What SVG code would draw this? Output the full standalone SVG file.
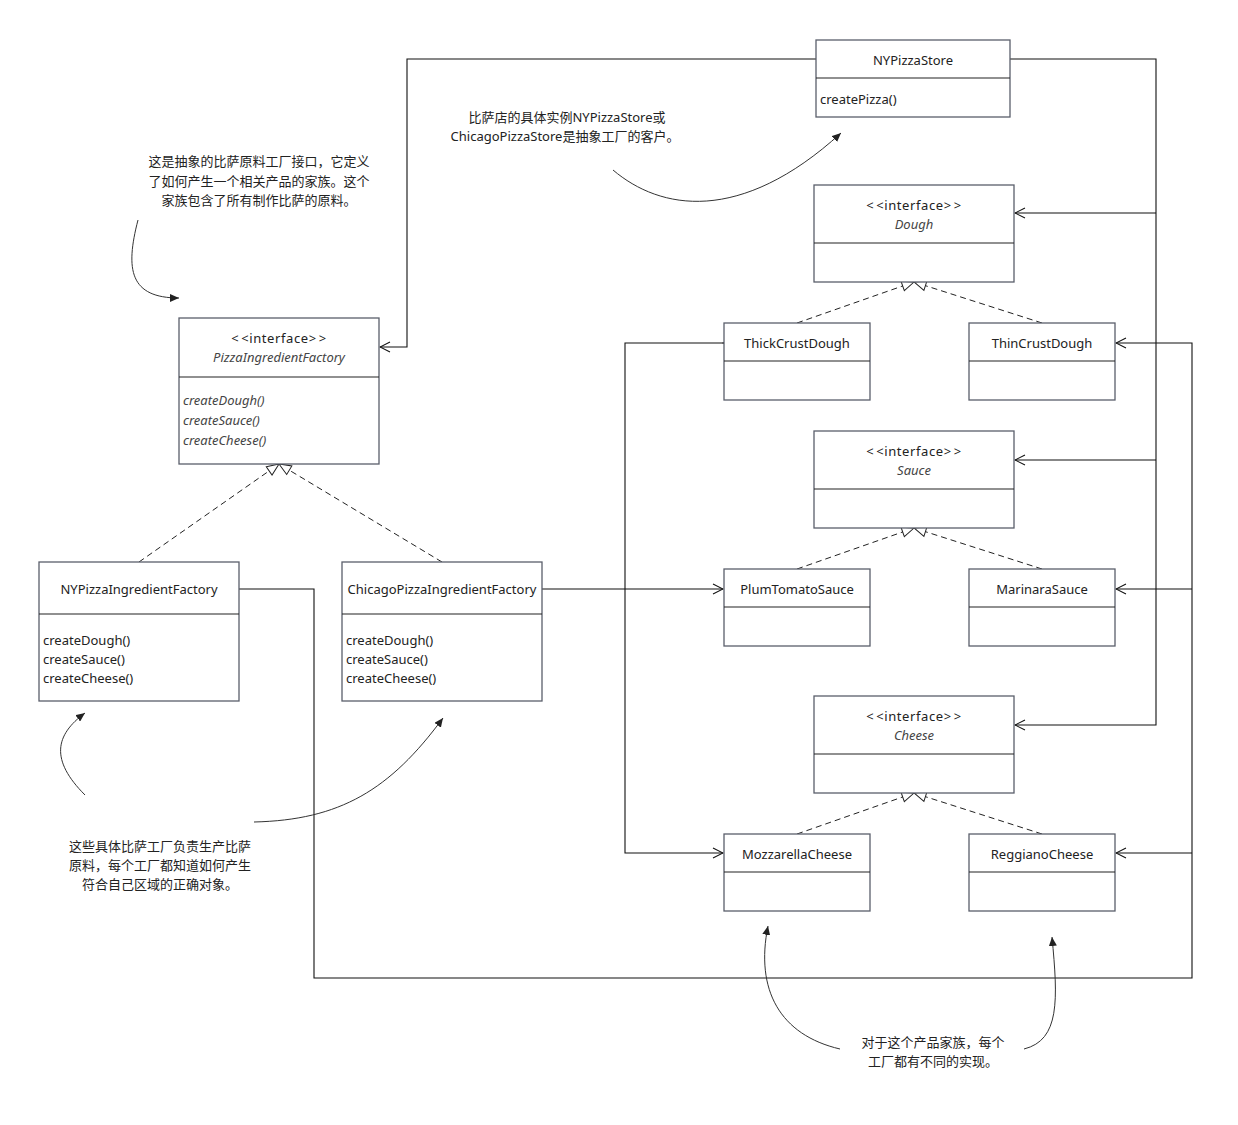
<svg xmlns="http://www.w3.org/2000/svg" width="1238" height="1125" viewBox="0 0 1238 1125">
<style>
text{font-family:"Noto Sans","Noto Sans CJK SC",sans-serif;font-size:13px;fill:#222}
.c{text-anchor:middle}
.i{font-style:italic;fill:#444}
.box{fill:#fff;stroke:#5a5f6b;stroke-width:1.3}
.div{stroke:#222;stroke-width:1.1}
.ln{fill:none;stroke:#111;stroke-width:1.1}
.dash{fill:none;stroke:#222;stroke-width:1;stroke-dasharray:6 4}
.note{fill:none;stroke:#333;stroke-width:1}
</style>
<defs>
<marker id="open" viewBox="0 0 12 12" refX="11" refY="6" markerWidth="12" markerHeight="12" markerUnits="userSpaceOnUse" orient="auto">
<path d="M1,1 L11,6 L1,11" fill="none" stroke="#111" stroke-width="1.1"/>
</marker>
<marker id="tri" viewBox="0 0 14 12" refX="13" refY="6" markerWidth="14" markerHeight="12" markerUnits="userSpaceOnUse" orient="auto">
<path d="M1,1 L13,6 L1,11 Z" fill="#fff" stroke="#222" stroke-width="1"/>
</marker>
<marker id="fill" viewBox="0 0 10 8" refX="9" refY="4" markerWidth="10" markerHeight="8" markerUnits="userSpaceOnUse" orient="auto">
<path d="M0,0 L9,4 L0,8 Z" fill="#222"/>
</marker>
</defs>

<g id="connectors">
<path class="ln" d="M816,59 H407 V347 H380" marker-end="url(#open)"/>
<path class="ln" d="M1010,59 H1156 V725 H1015" marker-end="url(#open)"/>
<path class="ln" d="M1156,213 H1015" marker-end="url(#open)"/>
<path class="ln" d="M1156,460 H1015" marker-end="url(#open)"/>
<path class="ln" d="M542,589 H723" marker-end="url(#open)"/>
<path class="ln" d="M723,343 H625 V853 H723" marker-start="url(#open)" marker-end="url(#open)"/>
<path class="ln" d="M239,589 H314 V978 H1192 V343 H1116" marker-end="url(#open)"/>
<path class="ln" d="M1192,589 H1116" marker-end="url(#open)"/>
<path class="ln" d="M1192,853 H1116" marker-end="url(#open)"/>
<path class="dash" d="M139,562 L279,464" marker-end="url(#tri)"/>
<path class="dash" d="M442,562 L279,464" marker-end="url(#tri)"/>
<path class="dash" d="M797,323 L914,282" marker-end="url(#tri)"/>
<path class="dash" d="M1042,323 L914,282" marker-end="url(#tri)"/>
<path class="dash" d="M797,569 L914,528" marker-end="url(#tri)"/>
<path class="dash" d="M1042,569 L914,528" marker-end="url(#tri)"/>
<path class="dash" d="M797,834 L914,793" marker-end="url(#tri)"/>
<path class="dash" d="M1042,834 L914,793" marker-end="url(#tri)"/>
<path class="note" d="M613,170 C660,210 740,225 841,133" marker-end="url(#fill)"/>
<path class="note" d="M138,220 C125,270 130,298 179,298" marker-end="url(#fill)"/>
<path class="note" d="M85,795 C50,760 55,735 85,713" marker-end="url(#fill)"/>
<path class="note" d="M254,822 C340,820 390,790 443,718" marker-end="url(#fill)"/>
<path class="note" d="M840,1049 C780,1035 755,990 768,926" marker-end="url(#fill)"/>
<path class="note" d="M1024,1049 C1060,1040 1058,1000 1052,937" marker-end="url(#fill)"/>
</g>

<g id="NYPizzaStore">
<rect class="box" x="816" y="40" width="194" height="77"/>
<line class="div" x1="816" y1="78" x2="1010" y2="78"/>
<text class="c" x="913" y="65">NYPizzaStore</text>
<text x="820" y="104">createPizza()</text>
</g>

<g id="Dough">
<rect class="box" x="814" y="185" width="200" height="97"/>
<line class="div" x1="814" y1="243" x2="1014" y2="243"/>
<text class="c" x="914" y="210" letter-spacing="0.6">&lt;<tspan dx="2">&lt;</tspan>interface&gt;<tspan dx="2">&gt;</tspan></text>
<text class="c i" x="914" y="229">Dough</text>
</g>

<g id="PizzaIngredientFactory">
<rect class="box" x="179" y="318" width="200" height="146"/>
<line class="div" x1="179" y1="377" x2="379" y2="377"/>
<text class="c" x="279" y="343" letter-spacing="0.6">&lt;<tspan dx="2">&lt;</tspan>interface&gt;<tspan dx="2">&gt;</tspan></text>
<text class="c i" x="279" y="362">PizzaIngredientFactory</text>
<text class="i" x="183" y="405">createDough()</text>
<text class="i" x="183" y="425">createSauce()</text>
<text class="i" x="183" y="445">createCheese()</text>
</g>

<g id="ThickCrustDough">
<rect class="box" x="724" y="323" width="146" height="77"/>
<line class="div" x1="724" y1="361" x2="870" y2="361"/>
<text class="c" x="797" y="348">ThickCrustDough</text>
</g>

<g id="ThinCrustDough">
<rect class="box" x="969" y="323" width="146" height="77"/>
<line class="div" x1="969" y1="361" x2="1115" y2="361"/>
<text class="c" x="1042" y="348">ThinCrustDough</text>
</g>

<g id="Sauce">
<rect class="box" x="814" y="431" width="200" height="97"/>
<line class="div" x1="814" y1="489" x2="1014" y2="489"/>
<text class="c" x="914" y="456" letter-spacing="0.6">&lt;<tspan dx="2">&lt;</tspan>interface&gt;<tspan dx="2">&gt;</tspan></text>
<text class="c i" x="914" y="475">Sauce</text>
</g>

<g id="PlumTomatoSauce">
<rect class="box" x="724" y="569" width="146" height="77"/>
<line class="div" x1="724" y1="607" x2="870" y2="607"/>
<text class="c" x="797" y="594">PlumTomatoSauce</text>
</g>

<g id="MarinaraSauce">
<rect class="box" x="969" y="569" width="146" height="77"/>
<line class="div" x1="969" y1="607" x2="1115" y2="607"/>
<text class="c" x="1042" y="594">MarinaraSauce</text>
</g>

<g id="Cheese">
<rect class="box" x="814" y="696" width="200" height="97"/>
<line class="div" x1="814" y1="754" x2="1014" y2="754"/>
<text class="c" x="914" y="721" letter-spacing="0.6">&lt;<tspan dx="2">&lt;</tspan>interface&gt;<tspan dx="2">&gt;</tspan></text>
<text class="c i" x="914" y="740">Cheese</text>
</g>

<g id="MozzarellaCheese">
<rect class="box" x="724" y="834" width="146" height="77"/>
<line class="div" x1="724" y1="872" x2="870" y2="872"/>
<text class="c" x="797" y="859">MozzarellaCheese</text>
</g>

<g id="ReggianoCheese">
<rect class="box" x="969" y="834" width="146" height="77"/>
<line class="div" x1="969" y1="872" x2="1115" y2="872"/>
<text class="c" x="1042" y="859">ReggianoCheese</text>
</g>

<g id="NYPizzaIngredientFactory">
<rect class="box" x="39" y="562" width="200" height="139"/>
<line class="div" x1="39" y1="614" x2="239" y2="614"/>
<text class="c" x="139" y="594">NYPizzaIngredientFactory</text>
<text x="43" y="645">createDough()</text>
<text x="43" y="664">createSauce()</text>
<text x="43" y="683">createCheese()</text>
</g>

<g id="ChicagoPizzaIngredientFactory">
<rect class="box" x="342" y="562" width="200" height="139"/>
<line class="div" x1="342" y1="614" x2="542" y2="614"/>
<text class="c" x="442" y="594">ChicagoPizzaIngredientFactory</text>
<text x="346" y="645">createDough()</text>
<text x="346" y="664">createSauce()</text>
<text x="346" y="683">createCheese()</text>
</g>

<g id="note-store">
<text class="c" x="567" y="122">比萨店的具体实例NYPizzaStore或</text>
<text class="c" x="565" y="141">ChicagoPizzaStore是抽象工厂的客户。</text>
</g>
<g id="note-interface">
<text class="c" x="259" y="166">这是抽象的比萨原料工厂接口，它定义</text>
<text class="c" x="259" y="186">了如何产生一个相关产品的家族。这个</text>
<text class="c" x="259" y="205">家族包含了所有制作比萨的原料。</text>
</g>
<g id="note-factories">
<text class="c" x="160" y="851">这些具体比萨工厂负责生产比萨</text>
<text class="c" x="160" y="870">原料，每个工厂都知道如何产生</text>
<text class="c" x="160" y="889">符合自己区域的正确对象。</text>
</g>
<g id="note-family">
<text class="c" x="933" y="1047">对于这个产品家族，每个</text>
<text class="c" x="933" y="1066">工厂都有不同的实现。</text>
</g>
</svg>
